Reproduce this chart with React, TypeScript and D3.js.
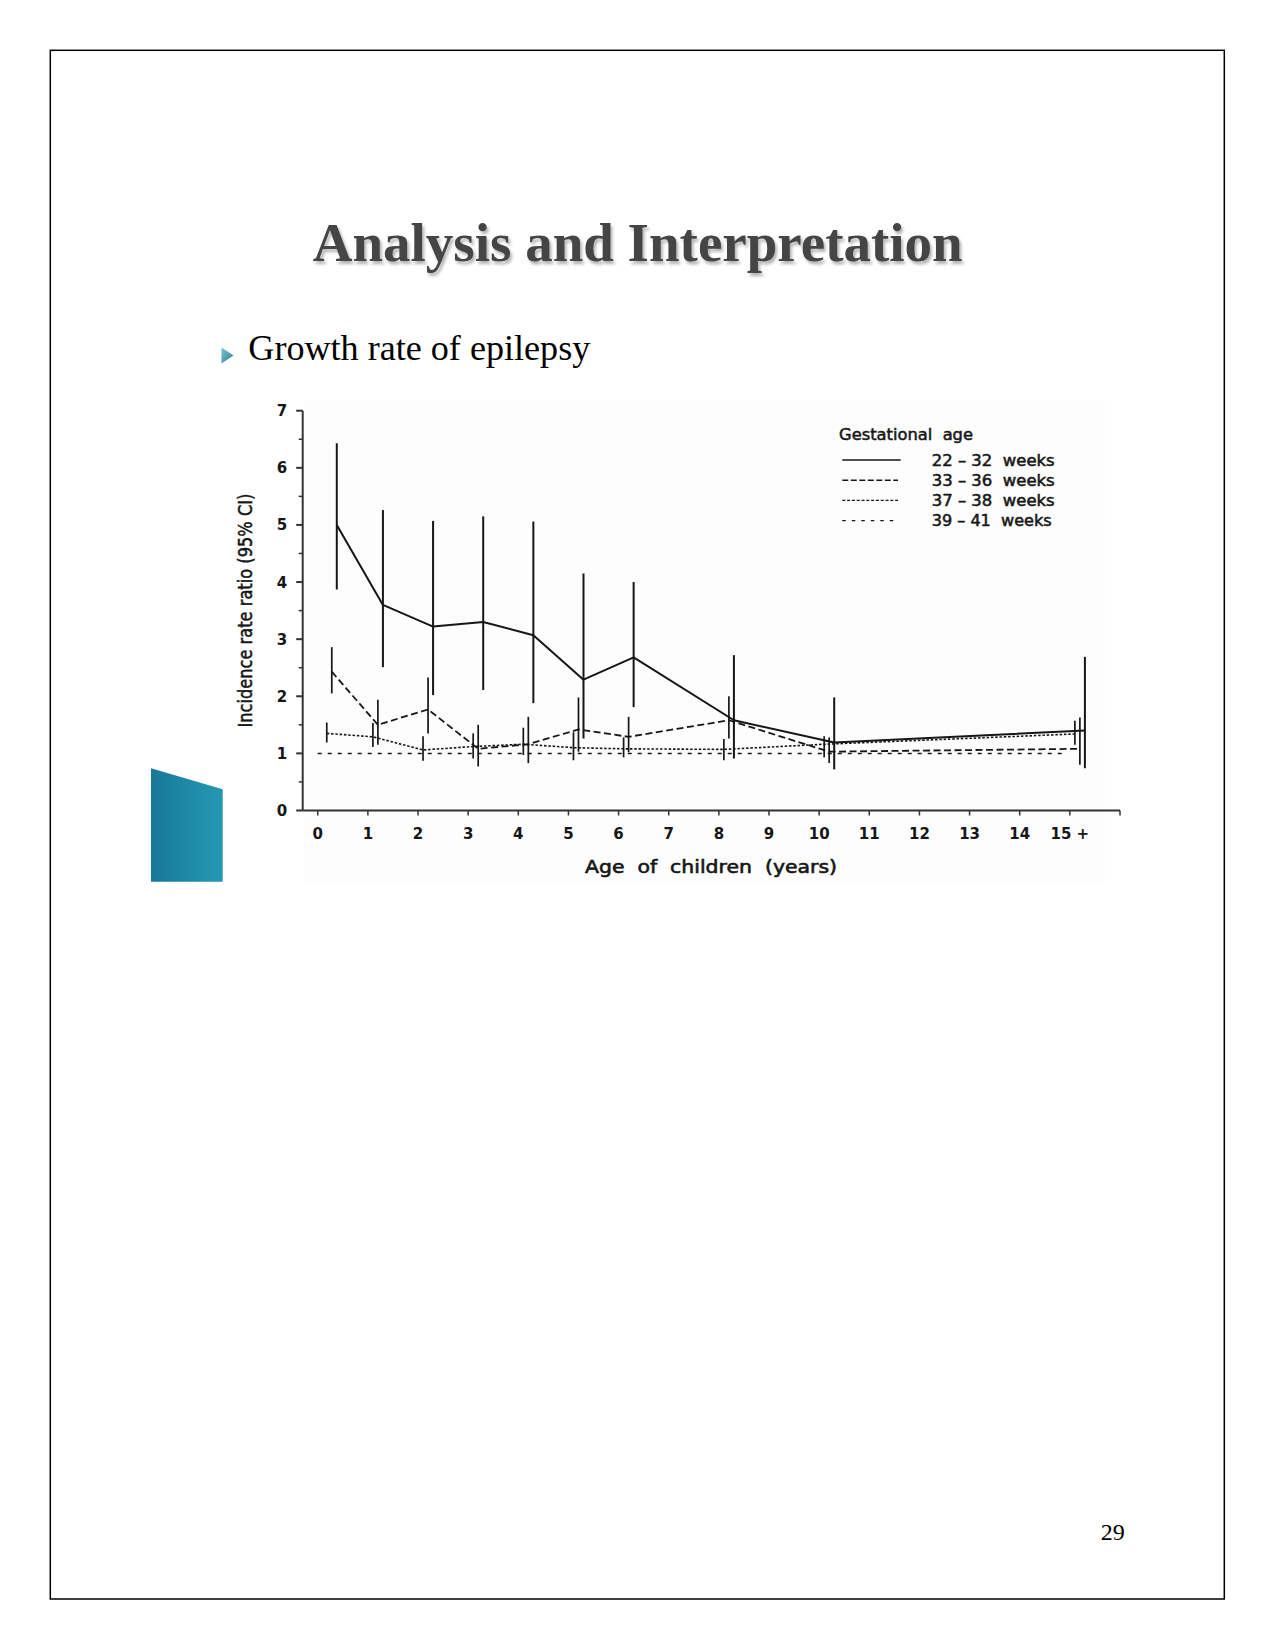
import React from "react";
import * as d3 from "d3";

// plotting position of each age group (first group sits a bit right of 0)
const ages = [0.08, 1, 2, 3, 4, 5, 6, 8, 10, 15];

const xTicks = d3.range(0, 17);
const xTickLabels = ["0", "1", "2", "3", "4", "5", "6", "7", "8", "9", "10", "11", "12", "13", "14", "15 +", ""];
const yTicks = [0, 1, 2, 3, 4, 5, 6, 7];

// incidence rate ratio and 95% CI
const irr2232 = [5.0, 3.6, 3.22, 3.3, 3.07, 2.29, 2.68, 1.58, 1.19, 1.4];
const lo2232 = [3.87, 2.51, 2.02, 2.11, 1.88, 1.26, 1.81, 0.91, 0.72, 0.74];
const hi2232 = [6.43, 5.26, 5.07, 5.15, 5.06, 4.15, 4.0, 2.72, 1.98, 2.69];

const irr3336 = [2.43, 1.5, 1.77, 1.08, 1.16, 1.42, 1.29, 1.58, 1.03, 1.08];
const lo3336 = [2.05, 1.15, 1.35, 0.77, 0.83, 1.03, 1.02, 1.26, 0.83, 0.8];
const hi3336 = [2.86, 1.94, 2.33, 1.5, 1.64, 1.98, 1.64, 2.0, 1.28, 1.63];

const irr3738 = [1.35, 1.29, 1.06, 1.12, 1.16, 1.1, 1.08, 1.07, 1.16, 1.34];
const lo3738 = [1.19, 1.11, 0.87, 0.91, 0.97, 0.88, 0.93, 0.88, 0.93, 1.15];
const hi3738 = [1.54, 1.53, 1.3, 1.35, 1.45, 1.37, 1.28, 1.25, 1.3, 1.57];

// reference group
const irr3941 = [1, 1, 1, 1, 1, 1, 1, 1, 1, 1];

const legendTitle = "Gestational  age";
const legendLabels = ["22 \u2013 32  weeks", "33 \u2013 36  weeks", "37 \u2013 38  weeks", "39 \u2013 41  weeks"];

const series = [
  { label: legendLabels[0], irr: irr2232, lo: lo2232, hi: hi2232, off: 0.3, dash: "none", sw: 2, legendDash: "none" },
  { label: legendLabels[1], irr: irr3336, lo: lo3336, hi: hi3336, off: 0.2, dash: "7,3.5", sw: 1.8, legendDash: "6,2.5" },
  { label: legendLabels[2], irr: irr3738, lo: lo3738, hi: hi3738, off: 0.1, dash: "2.5,1.8", sw: 1.6, legendDash: "3,1.8" },
  { label: legendLabels[3], irr: irr3941, lo: null, hi: null, off: -0.08, dash: "4,6", sw: 1.5, legendDash: "3.5,6" },
];

const FONT = "'DejaVu Sans', sans-serif";
const INK = "#161616";

export default function App() {
  const x = d3.scaleLinear().domain([-0.3, 16]).range([302.7, 1120]);
  const y = d3.scaleLinear().domain([0, 7]).range([810.5, 410.7]);

  const line = d3
    .line<[number, number]>()
    .x((d) => x(d[0]))
    .y((d) => y(d[1]));

  return (
    <svg
      width={1275}
      height={1651}
      style={{ position: "absolute", left: 0, top: 0, display: "block", background: "#fff" }}
    >
      <defs>
        <filter id="shadow" x="-5%" y="-20%" width="110%" height="150%">
          <feDropShadow dx="2" dy="3" stdDeviation="1.5" floodColor="#000" floodOpacity="0.3" />
        </filter>
        <linearGradient id="teal" x1="0" x2="1" y1="0" y2="0">
          <stop offset="0" stopColor="#18789a" />
          <stop offset="1" stopColor="#2499b4" />
        </linearGradient>
        <linearGradient id="bullet" x1="0" x2="1" y1="0" y2="1">
          <stop offset="0" stopColor="#78c6d3" />
          <stop offset="1" stopColor="#2a7f93" />
        </linearGradient>
      </defs>

      {/* page frame */}
      <rect x={50.3} y={50.3} width={1174} height={1548.7} fill="none" stroke="#000" strokeWidth={1.5} />

      {/* slide title */}
      <text
        x={637.7}
        y={261}
        textAnchor="middle"
        fontFamily="'Liberation Serif', serif"
        fontWeight="bold"
        fontSize={55}
        fill="#444"
        textLength={650}
        lengthAdjust="spacingAndGlyphs"
        filter="url(#shadow)"
      >
        Analysis and Interpretation
      </text>

      {/* bullet */}
      <path d="M221.5,347.5 L233.5,355.5 L221.5,363.5 Z" fill="url(#bullet)" />
      <text
        x={248.3}
        y={360}
        fontFamily="'Liberation Serif', serif"
        fontSize={36}
        fill="#000"
        textLength={342}
        lengthAdjust="spacingAndGlyphs"
      >
        Growth rate of epilepsy
      </text>

      {/* teal decoration */}
      <path d="M151,768.3 L222.7,789.3 L222.7,881.7 L151,881.7 Z" fill="url(#teal)" />

      {/* faint background of the pasted figure */}
      <rect x={305} y={400} width={800} height={484} fill="#fdfdfd" />

      {/* y axis */}
      <g stroke="#333" strokeWidth={2}>
        <line x1={x(-0.3)} x2={x(-0.3)} y1={y(0)} y2={y(7)} />
        {yTicks.map((t) => (
          <line key={t} x1={x(-0.3) - 6.5} x2={x(-0.3)} y1={y(t)} y2={y(t)} />
        ))}
        {d3.range(0.5, 7, 1).map((t) => (
          <line key={"m" + t} x1={x(-0.3) - 4} x2={x(-0.3)} y1={y(t)} y2={y(t)} strokeWidth={1.5} />
        ))}
      </g>
      {yTicks.map((t) => (
        <text
          key={t}
          x={282}
          y={y(t) + 5.5}
          textAnchor="middle"
          fontFamily={FONT}
          fontWeight="bold"
          fontSize={15}
          fill={INK}
        >
          {t}
        </text>
      ))}

      {/* x axis */}
      <g stroke="#333" strokeWidth={2}>
        <line x1={x(-0.3)} x2={x(16)} y1={y(0)} y2={y(0)} />
        {xTicks.map((t) => (
          <line key={t} x1={x(t)} x2={x(t)} y1={y(0)} y2={y(0) + 5} strokeWidth={1.5} />
        ))}
      </g>
      {xTicks.map((t, i) => (
        <text
          key={t}
          x={x(t)}
          y={838.5}
          textAnchor="middle"
          fontFamily={FONT}
          fontWeight="bold"
          fontSize={15}
          fill={INK}
          style={{ whiteSpace: "pre" }}
        >
          {xTickLabels[i]}
        </text>
      ))}

      {/* axis titles */}
      <text
        x={711}
        y={873}
        textAnchor="middle"
        fontFamily={FONT}
        fontSize={18}
        fill={INK}
        stroke={INK}
        strokeWidth={0.6}
        textLength={252}
        lengthAdjust="spacingAndGlyphs"
        style={{ whiteSpace: "pre" }}
      >
        {"Age  of  children  (years)"}
      </text>
      <text
        transform={`translate(252,${(y(0) + y(7)) / 2}) rotate(-90)`}
        textAnchor="middle"
        fontFamily={FONT}
        fontSize={20}
        fill={INK}
        stroke={INK}
        strokeWidth={0.5}
        textLength={234}
        lengthAdjust="spacingAndGlyphs"
      >
        Incidence rate ratio (95% CI)
      </text>

      {/* series lines and CI bars */}
      {series.map((s, si) => {
        const pts: [number, number][] = ages.map((a, i) => [a + s.off, s.irr[i]]);
        return (
          <g key={si}>
            <path
              d={line(pts) || ""}
              fill="none"
              stroke={INK}
              strokeWidth={s.sw}
              strokeDasharray={s.dash}
              strokeLinejoin="round"
            />
            {s.lo &&
              s.hi &&
              ages.map((a, i) => (
                <line
                  key={i}
                  x1={x(a + s.off)}
                  x2={x(a + s.off)}
                  y1={y(s.lo![i])}
                  y2={y(s.hi![i])}
                  stroke={INK}
                  strokeWidth={si === 0 ? 2 : 1.7}
                />
              ))}
          </g>
        );
      })}

      {/* legend */}
      <text
        x={839}
        y={439.5}
        fontFamily={FONT}
        fontSize={15.5}
        fill={INK}
        stroke={INK}
        strokeWidth={0.5}
        textLength={134}
        lengthAdjust="spacingAndGlyphs"
        style={{ whiteSpace: "pre" }}
      >
        {legendTitle}
      </text>
      {series.map((s, i) => {
        const ly = 460 + i * 20.2;
        return (
          <g key={i}>
            <line
              x1={842.3}
              x2={i === 0 ? 900.7 : i === 3 ? 896 : 898}
              y1={ly}
              y2={ly}
              stroke={INK}
              strokeWidth={1.4}
              strokeDasharray={s.legendDash}
            />
            <text
              x={931.7}
              y={ly + 5.5}
              fontFamily={FONT}
              fontSize={15}
              fill={INK}
              stroke={INK}
              strokeWidth={0.5}
              textLength={i === 3 ? 120 : 123}
              lengthAdjust="spacingAndGlyphs"
              style={{ whiteSpace: "pre" }}
            >
              {s.label}
            </text>
          </g>
        );
      })}

      {/* page number */}
      <text x={1112.7} y={1540} textAnchor="middle" fontFamily="'Liberation Serif', serif" fontSize={24} fill="#000">
        29
      </text>
    </svg>
  );
}
